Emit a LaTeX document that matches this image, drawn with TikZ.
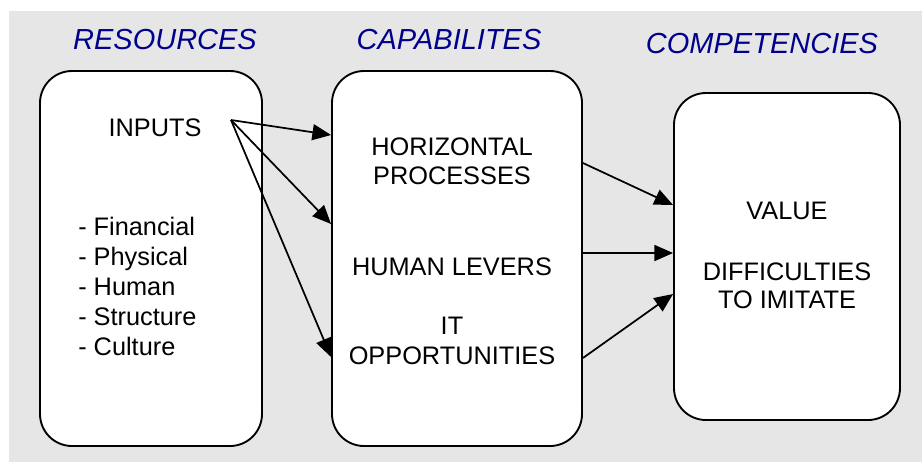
\documentclass[tikz,border=0pt]{standalone}
\usepackage{fontspec}
\setmainfont{Liberation Sans}
\usetikzlibrary{arrows.meta}
\definecolor{bg}{RGB}{230,230,230}
\definecolor{head}{RGB}{0,0,140}
\begin{document}
\begin{tikzpicture}[x=0.75pt,y=-0.75pt,
  box/.style={draw,line width=1.4pt,fill=white,rounded corners=24pt,inner sep=0pt},
  heading/.style={font=\fontsize{21.75}{26}\selectfont\itshape,text=head,inner sep=0pt,anchor=base},
  txt/.style={font=\fontsize{19}{23}\selectfont,inner sep=0pt,anchor=base},
  lst/.style={txt,anchor=base west},
  arr/.style={line width=1.3pt,-{Triangle[length=14pt,width=12pt]}}]
\useasboundingbox (0,0) rectangle (922,462);
\fill[bg] (9,11) rectangle (922,462);
% boxes
\node[box,minimum width=166.5pt,minimum height=281.25pt] (res) at (151,258.5) {};
\node[box,minimum width=187.5pt,minimum height=281.25pt] (cap) at (457,258.5) {};
\node[box,minimum width=169.5pt,minimum height=245.25pt] (comp) at (787,256.5) {};
% headings
\node[heading] (hres) at (165,49) {RESOURCES};
\node[heading] (hcap) at (449,49) {CAPABILITES};
\node[heading] (hcomp) at (762,53) {COMPETENCIES};
% resources text
\node[txt] (inputs) at (155,136) {INPUTS};
\node[lst] (l1) at (78,235) {- Financial};
\node[lst] (l2) at (78,265) {- Physical};
\node[lst] (l3) at (78,295) {- Human};
\node[lst] (l4) at (78,325) {- Structure};
\node[lst] (l5) at (78,355) {- Culture};
% capabilities text
\node[txt] (hp1) at (452,155) {HORIZONTAL};
\node[txt] (hp2) at (452,184) {PROCESSES};
\node[txt] (hl) at (452,275) {HUMAN LEVERS};
\node[txt] (it1) at (452,334) {IT};
\node[txt] (it2) at (452,364) {OPPORTUNITIES};
% competencies text
\node[txt] (val) at (787,219) {VALUE};
\node[txt] (dif1) at (787,280) {DIFFICULTIES};
\node[txt] (dif2) at (787,308) {TO IMITATE};
% helper coordinates
\coordinate (src) at (231,120);
\coordinate (y1) at (0,135);
\coordinate (y2) at (0,224);
\coordinate (y3) at (0,357);
\coordinate (s1) at (0,163);
\coordinate (s2) at (0,253);
\coordinate (s3) at (0,358);
\coordinate (e1) at (0,205);
\coordinate (e2) at (0,253);
\coordinate (e3) at (0,294);
% arrows
\draw[arr] (src) -- (cap.west |- y1);
\draw[arr] (src) -- (cap.west |- y2);
\draw[arr] (src) -- (cap.west |- y3);
\draw[arr] (cap.east |- s1) -- (comp.west |- e1);
\draw[arr] (cap.east |- s2) -- (comp.west |- e2);
\draw[arr] (cap.east |- s3) -- (comp.west |- e3);
\end{tikzpicture}
\end{document}
